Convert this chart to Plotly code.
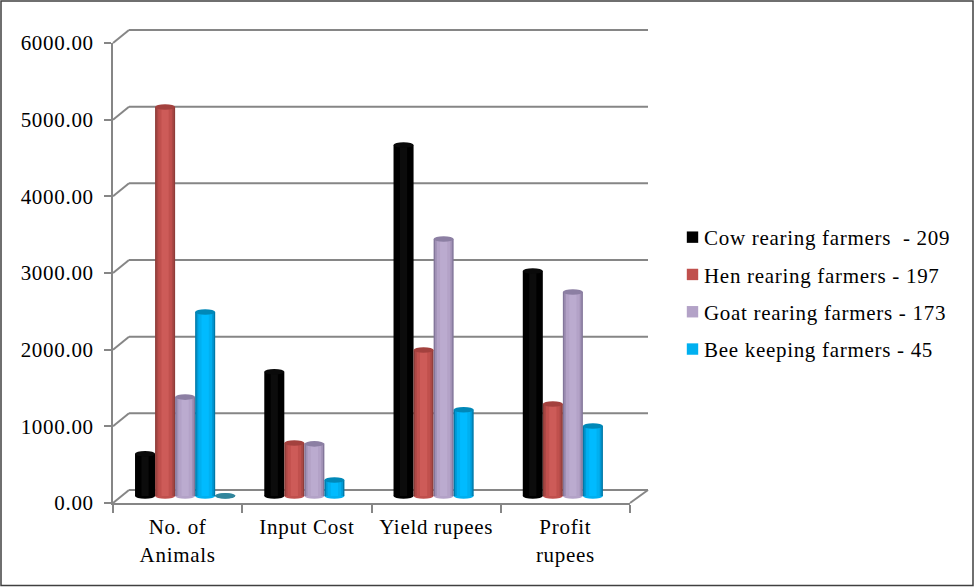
import plotly.graph_objects as go

W, H = 974, 587

categories = ["No. of<br>Animals", "Input Cost", "Yield rupees", "Profit<br>rupees"]
category_positions = [0, 1, 2, 3]
series_names = ["Cow rearing farmers  - 209", "Hen rearing farmers - 197",
                "Goat rearing farmers - 173", "Bee keeping farmers - 45", "Other"]
cow = [550, 1620, 4578, 2935]
hen = [5074, 691, 1904, 1200]
goat = [1290, 680, 3352, 2660]
bee = [2400, 209, 1125, 913]
other = [4, None, None, None]
y_ticks = [0, 1000, 2000, 3000, 4000, 5000, 6000]

series_values = [cow, hen, goat, bee, other]
# edge, shoulder, main, highlight, cap
palettes = [
    ("#000000", "#000000", "#000000", "#0c0c0c", "#0a0a0a"),
    ("#8f3c39", "#ab4845", "#c0504d", "#cd5b58", "#a3413e"),
    ("#83769a", "#a091b5", "#b3a2c7", "#bbabcf", "#8c7fa3"),
    ("#0079a8", "#009ad6", "#00b0f0", "#00bbff", "#0088b8"),
    ("#31859c", "#31859c", "#31859c", "#31859c", "#31859c"),
]
strips = [(0.0, 1.0), (0.07, 0.86), (0.16, 0.68), (0.32, 0.36)]


def px(x):
    return x / W


def py(y):
    return 1 - y / H


GRID = "#868686"
FONT = "Liberation Serif"
SIZE = 21
SLOT = 20 / 129
START = -2.5 * SLOT

fig = go.Figure()

# invisible trace that makes the front category axis and value axis exist
fig.add_trace(go.Scatter(x=categories, y=[0, 0, 0, 0], mode="markers",
                         marker=dict(opacity=0), showlegend=False,
                         hoverinfo="skip", xaxis="x", yaxis="y"))

shapes = [dict(type="rect", xref="paper", yref="paper", x0=px(1), x1=px(973), y0=py(1), y1=py(585.5),
               line=dict(color="#404040", width=1.5), layer="below")]

# back wall gridlines and the diagonals joining them to the front axis
for v in y_ticks:
    front = 503 - v * 460 / 6000
    back = front - 13
    shapes.append(dict(type="line", xref="paper", yref="paper", x0=px(129), x1=px(648),
                       y0=py(back), y1=py(back), line=dict(color=GRID, width=2), layer="below"))
    shapes.append(dict(type="line", xref="paper", yref="paper", x0=px(113), x1=px(129),
                       y0=py(front), y1=py(back), line=dict(color=GRID, width=2), layer="below"))
shapes.append(dict(type="line", xref="paper", yref="paper", x0=px(630), x1=px(648),
                   y0=py(503), y1=py(490), line=dict(color=GRID, width=2), layer="below"))

for s, (name, values, pal) in enumerate(zip(series_names, series_values, palettes)):
    left = START + s * SLOT
    is_flat = s == 4
    for k, (inset, frac) in enumerate(strips):
        show = (k == 2) and not is_flat
        fig.add_trace(go.Bar(
            x=category_positions, y=values, name=name,
            base=0, offset=left + inset * SLOT, width=frac * SLOT,
            marker=dict(color=pal[k], line=dict(width=0)),
            showlegend=show, legendgroup=name, xaxis="x2", yaxis="y2", hoverinfo="skip"))
    for cat, v in zip(category_positions, values):
        if v is None:
            continue
        x0 = cat + left
        x1 = x0 + SLOT
        # rounded foot of the cylinder, under the bars
        shapes.append(dict(type="circle", xref="x2", yref="y2", ysizemode="pixel", yanchor=0,
                           x0=x0, x1=x1, y0=-2.8, y1=2.8, fillcolor=pal[2],
                           line=dict(width=0), layer="below"))
        # top cap of the cylinder
        shapes.append(dict(type="circle", xref="x2", yref="y2", ysizemode="pixel", yanchor=v,
                           x0=x0, x1=x1, y0=-2.8, y1=2.8, fillcolor=pal[4],
                           line=dict(width=0), layer="above"))

fig.update_layout(
    width=W, height=H, autosize=False,
    margin=dict(l=0, r=0, t=0, b=0, pad=0, autoexpand=False),
    paper_bgcolor="white", plot_bgcolor="rgba(0,0,0,0)",
    barmode="overlay", hovermode=False,
    font=dict(family=FONT, size=SIZE, color="#000000"),
    shapes=shapes,
    showlegend=True,
    legend=dict(x=px(664), y=py(217), xanchor="left", yanchor="top",
                font=dict(family=FONT, size=SIZE, color="#000000"),
                bgcolor="rgba(0,0,0,0)", tracegroupgap=7, traceorder="grouped"),
    xaxis=dict(domain=[px(113), px(630)], type="category", categoryorder="array",
               categoryarray=categories, range=[-0.5, 3.5], tickson="boundaries",
               ticks="outside", ticklen=8, tickwidth=2, tickcolor=GRID,
               showline=True, linecolor=GRID, linewidth=2, showgrid=False, zeroline=False,
               tickfont=dict(family=FONT, size=SIZE), anchor="y", ticklabelstandoff=4),
    yaxis=dict(domain=[py(503), py(43)], range=[0, 6000], tickvals=y_ticks,
               tickformat=".2f", ticks="outside", ticklen=7, tickwidth=2, tickcolor=GRID,
               showline=True, linecolor=GRID, linewidth=2, showgrid=False, zeroline=False,
               tickfont=dict(family=FONT, size=SIZE), anchor="x", ticklabelstandoff=6),
    xaxis2=dict(domain=[px(120.5), px(637.5)], range=[-0.5, 3.5], visible=False, anchor="y2"),
    yaxis2=dict(domain=[py(504), py(36)], range=[-104.35, 6000], visible=False, anchor="x2"),
)

page_css = ("text{letter-spacing:0.7px}"
            ".legendpoints path{transform:translate(28.5px,0) scale(0.95)}"
            ".legend .scrollbox{clip-path:none !important}"
            "body{margin:0;overflow:hidden}")
fig.write_html("out.html", config=dict(displayModeBar=False),
               post_script="var s=document.createElement('style');s.textContent='%s';document.head.appendChild(s);" % page_css)
